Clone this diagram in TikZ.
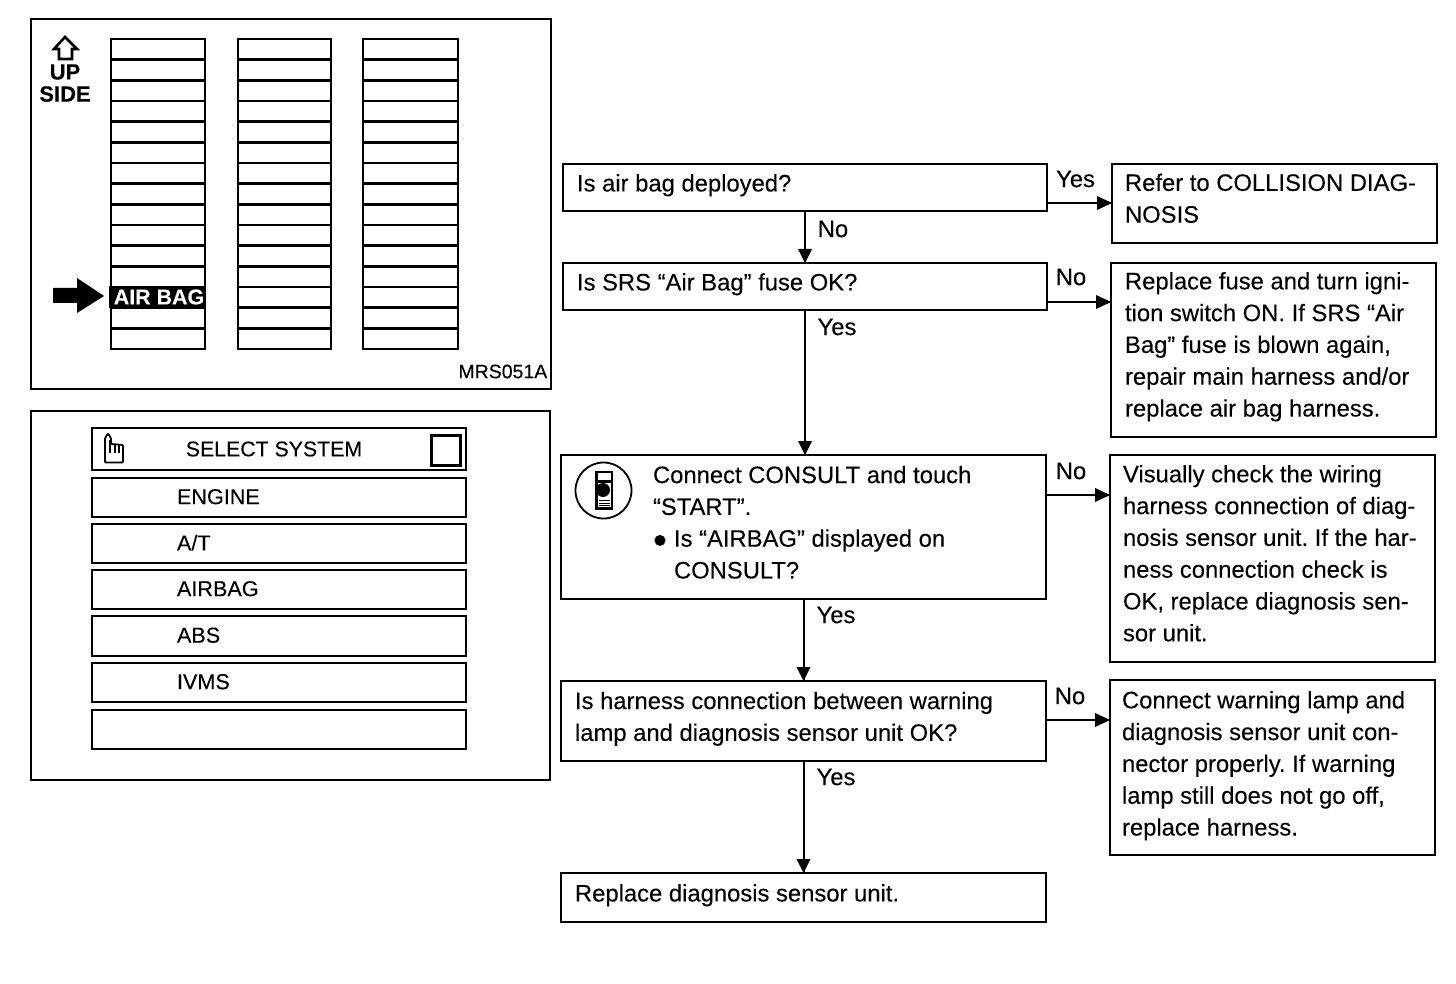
\documentclass[tikz,border=0pt]{standalone}
\usepackage{fontspec}
\setmainfont[FakeBold=0.12]{Liberation Sans}
\usetikzlibrary{calc}
\frenchspacing
\newcommand{\mainsz}{\fontsize{23.8}{31.8}\selectfont}
\newcommand{\smallsz}{\fontsize{21.6}{24}\selectfont}
\tikzset{
  x=1pt,y=-1pt,
  panel/.style={draw=black,line width=2.2pt,fill=white},
  fbox/.style={draw=black,line width=2.4pt,inner sep=0pt,outer sep=0pt,font=\mainsz},
  menu/.style={draw=black,line width=2.8pt,inner sep=0pt,outer sep=0pt,font=\smallsz},
  rowline/.style={line width=2.6pt,black},
  lbl/.style={inner sep=0pt,font=\mainsz},
  tag/.style={inner sep=0pt,font=\fontsize{22}{24}\selectfont},
  flow/.style={draw=black,line width=2pt},
}
% name, x1,y1,x2,y2, left pad, raise, text
\newcommand{\bx}[8]{%
  \pgfmathsetmacro{\bxw}{#4-#2}\pgfmathsetmacro{\bxh}{#5-#3}%
  \node[fbox,minimum width=\bxw pt,minimum height=\bxh pt] (#1) at ({(#2+#4)/2},{(#3+#5)/2})
    {\raisebox{#7pt}[0pt][0pt]{\parbox{\bxw pt}{\raggedright\leftskip=#6pt\parindent=0pt\relax #8}}};}
% name, y1, y2, text
\newcommand{\mrow}[4]{%
  \pgfmathsetmacro{\bxh}{#3-#2}%
  \node[menu,minimum width=374pt,minimum height=\bxh pt] (#1) at (279,{(#2+#3)/2})
    {\raisebox{-4.4pt}[0pt][0pt]{\parbox{374pt}{\leftskip=85pt\parindent=0pt\relax #4}}};}
\newcommand{\arrowdown}[2]{\draw[flow] (#1) -- (#2);
  \fill[black] ($(#2)+(-7,-14)$) -- (#2) -- ($(#2)+(7,-14)$) -- cycle;}
\newcommand{\arrowright}[2]{\draw[flow] (#1) -- (#2);
  \fill[black] ($(#2)+(-15,-7)$) -- (#2) -- ($(#2)+(-15,7)$) -- cycle;}
\begin{document}
\begin{tikzpicture}
\useasboundingbox (0,0) rectangle (1456,984);
\fill[white] (0,0) rectangle (1456,984);
% fuse panel
\node[panel,minimum width=520pt,minimum height=370pt,inner sep=0pt,outer sep=0pt] (p1) at (291,204) {};
\foreach \xa/\xb in {111/205,238/331,363/458}{
  \draw[rowline] (\xa,39) rectangle (\xb,349);
  \foreach \k in {1,...,14}{ \draw[rowline] (\xa,{39+20.67*\k}) -- (\xb,{39+20.67*\k}); }
}
\draw[line width=2.6pt,black,line join=miter] (65,37) -- (77,49) -- (72,49) -- (72,59) -- (59,59) -- (59,49) -- (54,49) -- cycle;
\node[tag] (up) at (65,72) {\textbf{UP}};
\node[tag] (side) at (65,94) {\textbf{SIDE}};
\fill[black] (53,288) -- (77,288) -- (77,278) -- (104,296) -- (77,313) -- (77,303) -- (53,303) -- cycle;
\fill[black] (109,286) rectangle (205,308);
\node[inner sep=0pt,text=white,font=\fontsize{21.4}{24}\selectfont\bfseries] (airbag) at (159,297) {AIR BAG};
\node[inner sep=0pt,font=\fontsize{19.5}{22}\selectfont,anchor=east] (code) at (547.5,371.5) {MRS051A};
% select panel
\node[panel,minimum width=519pt,minimum height=369pt,inner sep=0pt,outer sep=0pt] (p2) at (290.5,595.5) {};
\node[menu,minimum width=374pt,minimum height=42pt,font=\fontsize{21.3}{24}\selectfont] (hdr) at (279,449) {\hspace*{-10pt}SELECT SYSTEM};
\draw[line width=3pt,black] (431,435) rectangle (460,465);
\draw[line width=1.8pt,black,rounded corners=1pt] (105,462.5) -- (105,438) -- (108,433.5) -- (111,438) -- (111,444) -- (123,445) -- (123,462.5) -- cycle;
\draw[line width=2pt,black] (110,440) -- (110,453) (114.5,445) -- (114.5,453) (119,445) -- (119,453);
\mrow{r1}{478}{517}{ENGINE}
\mrow{r2}{524}{563}{A/T}
\mrow{r3}{570}{609}{AIRBAG}
\mrow{r4}{616}{656}{ABS}
\mrow{r5}{663}{702}{IVMS}
\mrow{r6}{710}{749}{\strut}
% flow boxes
\bx{b1}{563}{164}{1047}{211}{14}{-4}{Is air bag deployed?}
\bx{y1}{1112}{164}{1437}{243}{13}{-1}{Refer to COLLISION DIAG-\\NOSIS}
\bx{b2}{563}{263}{1047}{310}{14}{-4}{Is SRS “Air Bag” fuse OK?}
\bx{y2}{1111}{263}{1436}{437}{14}{-3}{Replace fuse and turn igni-\\tion switch ON. If SRS “Air\\Bag” fuse is blown again,\\repair main harness and/or\\replace air bag harness.}
\bx{b3}{561}{455}{1046}{599}{92}{-1.5}{Connect CONSULT and touch\\“START”.\\\makebox[21pt][l]{\smash{\raisebox{-7pt}{\fontsize{40}{40}\selectfont •}}}Is “AIRBAG” displayed on\\\hspace*{21pt}CONSULT?}
\bx{y3}{1110}{455}{1435}{662}{13}{-1}{Visually check the wiring\\harness connection of diag-\\nosis sensor unit. If the har-\\ness connection check is\\OK, replace diagnosis sen-\\sor unit.}
\bx{b4}{561}{681}{1046}{761}{14}{-4}{Is harness connection between warning\\lamp and diagnosis sensor unit OK?}
\bx{y4}{1110}{680}{1435}{855}{12}{-4.5}{Connect warning lamp and\\diagnosis sensor unit con-\\nector properly. If warning\\lamp still does not go off,\\replace harness.}
\bx{b5}{561}{873}{1046}{922}{14}{-4}{Replace diagnosis sensor unit.}
% icon
\draw[line width=1.8pt,black] (603.5,490.5) circle (28);
\draw[line width=1.6pt,black] (596,472) rectangle (612,508);
\fill[black] (594.5,471) rectangle (598,510);
\fill[black] (594.5,508) rectangle (613,510);
\fill[black] (596,480) rectangle (613,483);
\fill[black] (603,490) circle (7);
\draw[black,line width=.9pt] (599,500.5) -- (610,500.5) (599,503) -- (610,503) (599,505.5) -- (610,505.5);
% connectors
\coordinate (h1) at (1047,203);
\coordinate (h2) at (1047,302);
\coordinate (h3) at (1046,495);
\coordinate (h4) at (1046,720);
\arrowdown{b1.south}{b2.north}
\arrowdown{b2.south}{b2.south |- b3.north}
\arrowdown{b3.south}{b4.north}
\arrowdown{b4.south}{b5.north}
\arrowright{b1.east |- h1}{y1.west |- h1}
\arrowright{b2.east |- h2}{y2.west |- h2}
\arrowright{b3.east |- h3}{y3.west |- h3}
\arrowright{b4.east |- h4}{y4.west |- h4}
% labels
\node[lbl] (l1) at (1075.5,179) {Yes};
\node[lbl] (l2) at (833,229) {No};
\node[lbl] (l3) at (837,327) {Yes};
\node[lbl] (l4) at (1071,277) {No};
\node[lbl] (l5) at (1071,471) {No};
\node[lbl] (l6) at (836,615) {Yes};
\node[lbl] (l7) at (1070,696) {No};
\node[lbl] (l8) at (836,777) {Yes};
\end{tikzpicture}
\end{document}
